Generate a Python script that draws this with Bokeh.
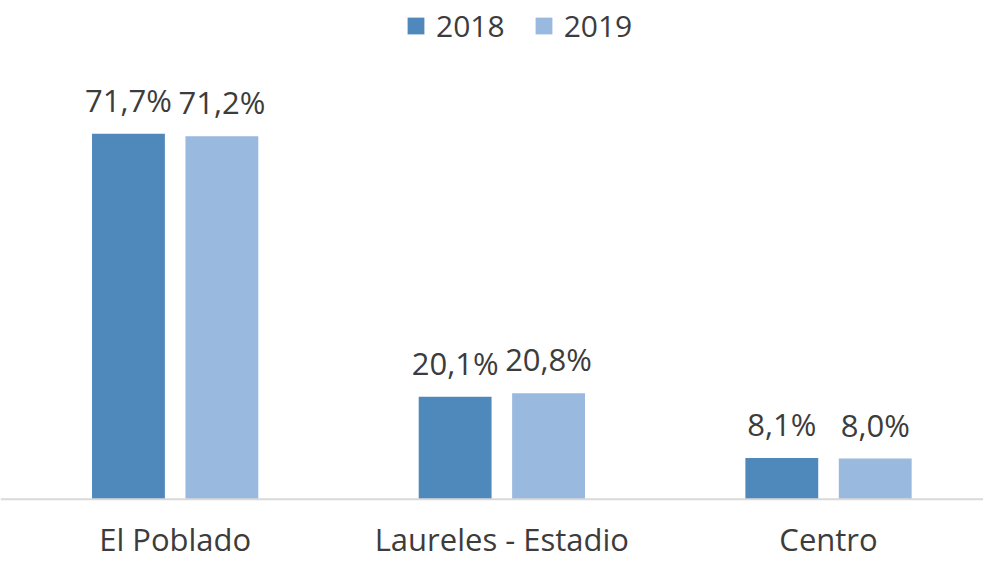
from bokeh.plotting import figure
from bokeh.models import (ColumnDataSource, Range1d, LabelSet, Legend, LegendItem, Span)
from bokeh.transform import dodge
from bokeh.core.properties import value
from bokeh.embed import file_html
from bokeh.resources import INLINE

categories = ["El Poblado", "Laureles - Estadio", "Centro"]
series_names = ["2018", "2019"]
values_2018 = [71.7, 20.1, 8.1]
values_2019 = [71.2, 20.8, 8.0]

FONT = "Open Sans"
TEXT_COLOR = "#3c3c3c"
C2018 = "#4f88bb"
C2019 = "#9ab9df"


def fmt(v):
    return f"{v:.1f}%".replace(".", ",")


src = ColumnDataSource(dict(
    x=[i + 0.5 for i in range(len(categories))],
    cat=categories,
    v2018=values_2018,
    v2019=values_2019,
    l2018=[fmt(v) for v in values_2018],
    l2019=[fmt(v) for v in values_2019],
    zero=[0] * len(categories),
))

p = figure(width=983, height=561, output_backend="svg", toolbar_location=None,
           x_range=Range1d(-0.0347, 2.9744), y_range=Range1d(-12.2, 97.83),
           x_axis_location=None, y_axis_location=None,
           min_border=0, min_border_left=0, min_border_right=0,
           min_border_top=0, min_border_bottom=0)
p.outline_line_color = None
p.grid.visible = False
p.background_fill_color = "white"
p.border_fill_color = "white"

off = 0.143
bw = 0.223
r1 = p.vbar(x=dodge("x", -off), top="v2018", width=bw, source=src,
            fill_color=C2018, line_color=None)
r2 = p.vbar(x=dodge("x", off), top="v2019", width=bw, source=src,
            fill_color=C2019, line_color=None)

p.add_layout(Span(location=0, dimension="width", line_color="#d9d9d9", line_width=2))

for fld, lab, d in (("v2018", "l2018", -off), ("v2019", "l2019", off)):
    p.add_layout(LabelSet(x=dodge("x", d), y=fld, text=lab, source=src,
                          text_align="center", text_baseline="alphabetic",
                          y_offset=22, text_font=value(FONT),
                          text_font_size="31px", text_color=TEXT_COLOR))

# category labels below the baseline
p.add_layout(LabelSet(x="x", y="zero", text="cat", source=src,
                      text_align="center", text_baseline="alphabetic",
                      y_offset=-52, text_font=value(FONT),
                      text_font_size="31px", text_color=TEXT_COLOR))

legend = Legend(items=[LegendItem(label=series_names[0], renderers=[r1]),
                       LegendItem(label=series_names[1], renderers=[r2])],
                orientation="horizontal", location=(405, 515),
                glyph_width=21, glyph_height=21, label_standoff=10, spacing=28,
                padding=0, margin=0, border_line_color=None,
                background_fill_alpha=0, label_text_font=FONT,
                label_text_font_size="30px", label_text_color=TEXT_COLOR)
p.add_layout(legend)

open("out.html", "w").write(file_html(p, INLINE))
